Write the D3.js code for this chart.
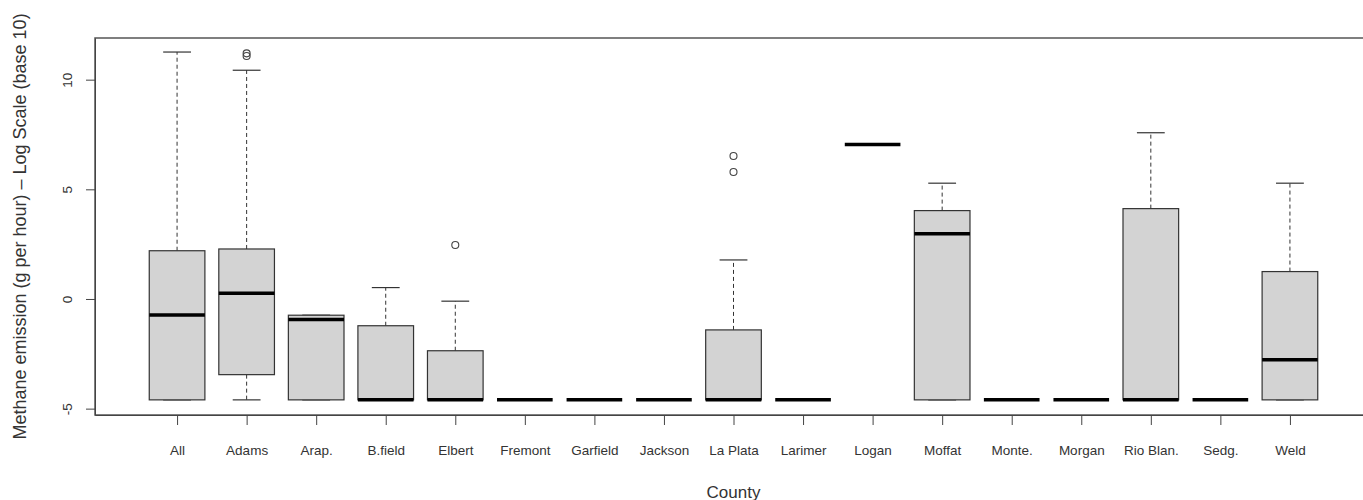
<!DOCTYPE html>
<html lang="en">
<head>
  <meta charset="UTF-8">
  <title>Methane emission by county</title>
  <script src="https://d3js.org/d3.v7.min.js"></script>
  <style>
    body {
      margin: 0;
      background: #fff;
      font-family: "Liberation Sans", Arial, sans-serif;
    }
    .axis path,
    .axis line {
      stroke: #444;
    }
    .axis text {
      fill: #333;
      font-size: 13.5px;
      font-family: "Liberation Sans", Arial, sans-serif;
    }
  </style>
</head>
<body>
  <svg width="1363" height="500"></svg>

  <script>
    // data (log scale values)
    const counties = ['All', 'Adams', 'Arap.', 'B.field', 'Elbert', 'Fremont', 'Garfield', 'Jackson',
      'La Plata', 'Larimer', 'Logan', 'Moffat', 'Monte.', 'Morgan', 'Rio Blan.', 'Sedg.', 'Weld'];
    const lowerWhisker = [-4.6, -4.6, -4.6, -4.6, -4.6, -4.6, -4.6, -4.6, -4.6, -4.6, 7.04, -4.6, -4.6, -4.6, -4.6, -4.6, -4.6];
    const q1 =           [-4.6, -3.45, -4.6, -4.6, -4.6, -4.6, -4.6, -4.6, -4.6, -4.6, 7.04, -4.6, -4.6, -4.6, -4.6, -4.6, -4.6];
    const medians =      [-0.73, 0.26, -0.93, -4.6, -4.6, -4.6, -4.6, -4.6, -4.6, -4.6, 7.04, 2.98, -4.6, -4.6, -4.6, -4.6, -2.77];
    const q3 =           [2.2, 2.28, -0.74, -1.22, -2.36, -4.6, -4.6, -4.6, -1.41, -4.6, 7.04, 4.03, -4.6, -4.6, 4.12, -4.6, 1.25];
    const upperWhisker = [11.26, 10.43, -0.74, 0.52, -0.1, -4.6, -4.6, -4.6, 1.78, -4.6, 7.04, 5.28, -4.6, -4.6, 7.58, -4.6, 5.28];
    const outliers = [[], [11.2, 11.08], [], [], [2.46], [], [], [], [6.52, 5.79], [], [], [], [], [], [], [], []];
    const yTicks = [-5, 0, 5, 10];

    const svg = d3.select('svg');
    const plot = { left: 95, top: 38, right: 1372, bottom: 415 };

    // scales (R style: 4% padding around the data range)
    const xScale = d3.scaleLinear()
      .domain([0.5 - 0.68, counties.length + 0.5 + 0.68])
      .range([plot.left, plot.right]);

    const yScale = d3.scaleLinear()
      .domain([-5.29, 11.9])
      .range([plot.bottom, plot.top]);

    const step = xScale(2) - xScale(1);
    const boxW = step * 0.8;
    const capW = boxW / 2;

    const boxes = counties.map((c, i) => ({
      name: c, pos: i + 1,
      lo: lowerWhisker[i], q1: q1[i], med: medians[i], q3: q3[i], hi: upperWhisker[i],
      out: outliers[i]
    }));

    // frame
    svg.append('rect')
      .attr('x', plot.left)
      .attr('y', plot.top)
      .attr('width', plot.right - plot.left)
      .attr('height', plot.bottom - plot.top)
      .attr('fill', 'none')
      .attr('stroke', '#555')
      .attr('stroke-width', 1.5);

    // axes
    const yAxis = svg.append('g')
      .attr('class', 'axis')
      .attr('transform', `translate(${plot.left},0)`)
      .call(d3.axisLeft(yScale).tickValues(yTicks).tickSize(9).tickSizeOuter(0).tickFormat(d => String(d)));
    yAxis.selectAll('text')
      .attr('x', null)
      .attr('dy', null)
      .attr('text-anchor', 'middle')
      .attr('dominant-baseline', 'central')
      .attr('transform', 'translate(-28,0) rotate(-90)');

    const xAxis = svg.append('g')
      .attr('class', 'axis')
      .attr('transform', `translate(0,${plot.bottom})`)
      .call(d3.axisBottom(xScale).tickValues(d3.range(1, counties.length + 1))
        .tickSize(10).tickSizeOuter(0).tickFormat(d => counties[d - 1]));
    xAxis.selectAll('text')
      .attr('y', 35)
      .attr('dy', null)
      .attr('dominant-baseline', 'central');

    // whiskers
    const g = svg.append('g');
    boxes.forEach(b => {
      const cx = xScale(b.pos);
      if (b.hi > b.q3) {
        g.append('line')
          .attr('x1', cx).attr('x2', cx)
          .attr('y1', yScale(b.q3)).attr('y2', yScale(b.hi))
          .attr('stroke', '#333').attr('stroke-dasharray', '4,3');
      }
      if (b.lo < b.q1) {
        g.append('line')
          .attr('x1', cx).attr('x2', cx)
          .attr('y1', yScale(b.q1)).attr('y2', yScale(b.lo))
          .attr('stroke', '#333').attr('stroke-dasharray', '4,3');
      }
      [b.hi, b.lo].forEach(v => {
        g.append('line')
          .attr('x1', cx - capW / 2).attr('x2', cx + capW / 2)
          .attr('y1', yScale(v)).attr('y2', yScale(v))
          .attr('stroke', '#333').attr('stroke-width', 1.2);
      });
    });

    // boxes
    g.selectAll('.box')
      .data(boxes)
      .enter()
      .append('rect')
      .attr('class', 'box')
      .attr('x', d => xScale(d.pos) - boxW / 2)
      .attr('y', d => yScale(d.q3))
      .attr('width', boxW)
      .attr('height', d => yScale(d.q1) - yScale(d.q3))
      .attr('fill', '#d3d3d3')
      .attr('stroke', '#333')
      .attr('stroke-width', 1.2);

    // medians
    g.selectAll('.median')
      .data(boxes)
      .enter()
      .append('line')
      .attr('class', 'median')
      .attr('x1', d => xScale(d.pos) - boxW / 2)
      .attr('x2', d => xScale(d.pos) + boxW / 2)
      .attr('y1', d => yScale(d.med))
      .attr('y2', d => yScale(d.med))
      .attr('stroke', '#000')
      .attr('stroke-width', 3.5);

    // outliers
    const outPts = boxes.flatMap(b => b.out.map(v => ({ pos: b.pos, v })));
    g.selectAll('.outlier')
      .data(outPts)
      .enter()
      .append('circle')
      .attr('class', 'outlier')
      .attr('cx', d => xScale(d.pos))
      .attr('cy', d => yScale(d.v))
      .attr('r', 3.5)
      .attr('fill', 'none')
      .attr('stroke', '#444')
      .attr('stroke-width', 1.1);

    // axis titles
    svg.append('text')
      .attr('x', (plot.left + plot.right) / 2)
      .attr('y', 492)
      .attr('text-anchor', 'middle')
      .attr('dominant-baseline', 'central')
      .attr('fill', '#333')
      .attr('font-size', 17)
      .text('County');

    svg.append('text')
      .attr('transform', `translate(20,${(plot.top + plot.bottom) / 2}) rotate(-90)`)
      .attr('text-anchor', 'middle')
      .attr('dominant-baseline', 'central')
      .attr('fill', '#333')
      .attr('font-size', 18)
      .text('Methane emission (g per hour) – Log Scale (base 10)');
  </script>
</body>
</html>
